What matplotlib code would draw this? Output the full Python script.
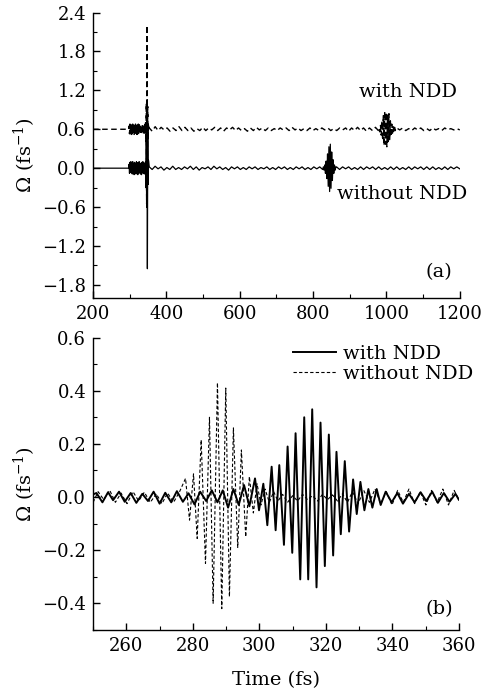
import numpy as np
import matplotlib
matplotlib.use("Agg")
import matplotlib.pyplot as plt
from matplotlib.ticker import MultipleLocator

plt.rcParams['font.family'] = ['DejaVu Serif']
plt.rcParams['mathtext.fontset'] = 'dejavuserif'
plt.rcParams['font.size'] = 14

# ---- panel (a): long time window, pieces of each trace as (start, end, values) ----
# without NDD (solid, around 0)
a_wo_pre = [0.0, 0.0]
a_wo_blob = [0.06, -0.08, 0.09, -0.06, 0.1, -0.07, 0.08, -0.09, 0.1, -0.06,
             0.07, -0.1, 0.09, -0.08, 0.07, -0.09, 0.1, -0.07, 0.08, -0.1,
             0.09, -0.08, 0.1, -0.07, 0.06, -0.09, 0.08, -0.1, 0.09, -0.07,
             0.1, -0.08, 0.07, -0.09, 0.08, -0.06]
a_wo_spike = [0.1, -0.3, 0.5, -0.6, 1.0, -1.55, 0.6, -0.25, 0.12]
a_wo_quiet1 = [0.02, -0.02, 0.03, -0.01, 0.02, -0.03, 0.01, -0.02, 0.03, -0.02,
               0.01, -0.02, 0.02, -0.01, 0.03, -0.02, 0.02, -0.03, 0.01, -0.01,
               0.02, -0.02, 0.03, -0.01, 0.02, -0.02, 0.01, -0.03, 0.02, -0.01,
               0.02, -0.02, 0.01, -0.02, 0.02, -0.01, 0.02, -0.02, 0.01, -0.01,
               0.02, -0.02, 0.01, -0.02, 0.02, -0.01, 0.02, -0.02, 0.01, -0.02,
               0.02, -0.01, 0.02, -0.02, 0.01, -0.02, 0.02, -0.01, 0.02, -0.02]
a_wo_packet = [0.02, -0.03, 0.05, -0.08, 0.11, -0.16, 0.22, -0.28, 0.33, -0.36,
               0.37, -0.31, 0.25, -0.19, 0.13, -0.08, 0.05, -0.03, 0.02]
a_wo_quiet2 = [0.02, -0.02, 0.02, -0.01, 0.02, -0.02, 0.01, -0.02, 0.02, -0.02,
               0.02, -0.01, 0.02, -0.02, 0.02, -0.02, 0.01, -0.02, 0.02, -0.02,
               0.02, -0.02, 0.01, -0.02, 0.02, -0.02, 0.02, -0.01, 0.02, -0.02,
               0.02, -0.02, 0.02, -0.02, 0.01, -0.02, 0.02, -0.02, 0.02, -0.01,
               0.02, -0.01]

# with NDD (dashed, shifted up by 0.6 in the figure)
a_w_pre = [0.0, 0.0]
a_w_blob = [0.05, -0.07, 0.08, -0.05, 0.07, -0.08, 0.06, -0.07, 0.08, -0.05,
            0.07, -0.08, 0.06, -0.07, 0.08, -0.06, 0.07, -0.08, 0.06, -0.07,
            0.08, -0.06, 0.07, -0.05, 0.08, -0.07, 0.06, -0.08, 0.07, -0.06,
            0.08, -0.07, 0.05, -0.06, 0.07, -0.05]
a_w_spike = [0.1, -0.2, 0.4, -1.15, 1.6, -0.6, 0.35, -0.15, 0.08]
a_w_quiet1 = [0.02, -0.03, 0.04, -0.02, 0.03, -0.01, 0.02, -0.03, 0.02, -0.02,
              0.04, -0.02, 0.03, -0.02, 0.02, -0.03, 0.01, -0.02, 0.03, -0.02,
              0.02, -0.01, 0.03, -0.02, 0.02, -0.03, 0.02, -0.01, 0.03, -0.02,
              0.02, -0.02, 0.01, -0.03, 0.02, -0.02, 0.03, -0.01, 0.02, -0.02,
              0.02, -0.02, 0.01, -0.02, 0.02, -0.01, 0.02, -0.02, 0.03, -0.01,
              0.02, -0.02, 0.01, -0.02, 0.02, -0.02, 0.01, -0.02, 0.02, -0.01,
              0.02, -0.02, 0.01, -0.02, 0.02, -0.01, 0.02, -0.03, 0.02, -0.02,
              0.03, -0.02, 0.02, -0.03, 0.02, -0.02, 0.03, -0.02]
a_w_packet = [0.02, -0.04, 0.06, -0.09, 0.13, -0.17, 0.21, -0.25, 0.27, -0.23,
              0.26, -0.27, 0.22, -0.19, 0.24, -0.16, 0.13, -0.11, 0.08, -0.06,
              0.05, -0.04, 0.03, -0.02, 0.02]
a_w_quiet2 = [0.02, -0.01, 0.02, -0.02, 0.01, -0.02, 0.02, -0.01, 0.02, -0.02,
              0.01, -0.02, 0.02, -0.01, 0.01, -0.02, 0.02, -0.01, 0.01, -0.01,
              0.01, -0.01]
offset_with = 0.6

a_wo_segments = [(200, 297, a_wo_pre), (298, 342, a_wo_blob), (343, 351, a_wo_spike),
                 (353, 826, a_wo_quiet1), (828, 862, a_wo_packet), (864, 1200, a_wo_quiet2)]
a_w_segments = [(200, 297, a_w_pre), (298, 342, a_w_blob), (343, 351, a_w_spike),
                (353, 978, a_w_quiet1), (980, 1026, a_w_packet), (1028, 1200, a_w_quiet2)]

# ---- panel (b): zoom 250-360 fs, extrema ----
b_with_t = [250, 251, 252.8, 254.5, 256, 257.8, 259.5, 261.3, 263, 264.8, 266.5, 268.2,
            270, 271.7, 273.5, 275.2, 277, 278.7, 280.5, 282.2, 284, 285.7, 287.4, 289,
            290.6, 292.2, 293.8, 295.4, 297, 298.7,
            299.9, 301.2, 302.4, 303.7, 304.9, 306, 307.4, 308.5, 309.9, 310.9, 312.3,
            313.5, 314.7, 315.9, 317.2, 318.4, 319.7, 320.9, 322.2, 323.2, 324.5, 325.7,
            327, 328.2, 329.3, 330.4, 331.6, 332.8, 334, 335.3, 336.5,
            338, 339.8, 341.5, 343.2, 345, 346.7, 348.5, 350.2, 352, 353.7, 355.5, 357.2,
            359, 360]
b_with_v = [0.01, 0.015, -0.02, 0.018, -0.012, 0.02, -0.018, 0.015, -0.022, 0.012, -0.015, 0.02,
            -0.025, 0.016, -0.02, 0.022, -0.018, 0.014, -0.028, 0.02, -0.015, 0.025, -0.02, 0.025,
            -0.04, 0.03, -0.03, 0.045, -0.035, 0.07,
            -0.05, 0.05, -0.106, 0.114, -0.125, 0.12, -0.18, 0.19, -0.21, 0.24, -0.31,
            0.30, -0.31, 0.33, -0.34, 0.28, -0.26, 0.235, -0.22, 0.17, -0.14, 0.135,
            -0.13, 0.066, -0.064, 0.057, -0.05, 0.03, -0.04, 0.03, -0.03,
            0.02, -0.02, 0.015, -0.025, 0.012, -0.02, 0.018, -0.015, 0.02, -0.022, 0.015, -0.018,
            0.012, -0.01]
b_without_t = [250, 251.5, 253.2, 255, 256.7, 258.4, 260.2, 262, 263.7, 265.4, 267.2, 269,
               270.7, 272.4, 274.2, 276,
               277.8, 279, 280.2, 281.3, 282.5, 283.8, 285, 286.1, 287.4, 288.7, 289.9, 291,
               292.2, 293.5, 294.6, 295.9, 297, 298.2, 299.3, 300.5, 301.7, 303, 304.3,
               305.6, 307, 308.5, 310, 311.5, 313, 314.5, 316, 317.5, 319, 320.5, 322, 323.5,
               325, 326.5, 328, 329.7, 331.4, 333.1, 334.8, 336.5, 338.2, 339.9, 341.6, 343.3,
               345, 346.7, 348.4, 350.1, 351.8, 353.5, 355.2, 356.9, 358.6, 360]
b_without_v = [-0.02, 0.02, -0.01, 0.025, -0.02, 0.015, -0.025, 0.02, -0.015, 0.018, -0.02, 0.012,
               -0.025, 0.015, -0.02, 0.02,
               0.07, -0.087, 0.087, -0.156, 0.215, -0.25, 0.30, -0.40, 0.43, -0.42, 0.41, -0.375,
               0.26, -0.19, 0.177, -0.15, 0.077, -0.06, 0.05, -0.03, 0.03, -0.02, 0.02,
               -0.015, 0.01, -0.02, 0.005, -0.015, 0.01, -0.01, 0.005, -0.015, 0.01, -0.01, 0.008, -0.015,
               0.012, -0.02, 0.02, -0.025, 0.025, -0.02, 0.03, -0.025, 0.02, -0.03, 0.025, -0.02,
               0.03, -0.025, 0.02, -0.03, 0.025, -0.02, 0.03, -0.03, 0.025, -0.01]


def build(segments):
    ts, vs = [], []
    for t0, t1, vals in segments:
        ts.append(np.linspace(t0, t1, len(vals)))
        vs.append(np.asarray(vals))
    return np.concatenate(ts), np.concatenate(vs)


def style(ax):
    for s in ['top', 'right']:
        ax.spines[s].set_visible(False)
    for s in ['left', 'bottom']:
        ax.spines[s].set_linewidth(1.0)
    ax.tick_params(which='both', direction='in', top=False, right=False, pad=5,
                   labelsize=13)
    ax.tick_params(which='major', length=5, width=1.0)
    ax.tick_params(which='minor', length=3, width=0.8)


fig = plt.figure(figsize=(4.85, 6.96), dpi=100)
ylab = r'$\mathit{Ω}$ (fs$^{-1}$)'

# panel (a)
ax1 = fig.add_axes([0.192, 0.572, 0.756, 0.41])
t_wo, v_wo = build(a_wo_segments)
t_w, v_w = build(a_w_segments)
ax1.plot(t_wo, v_wo, color='black', lw=0.9)
ax1.plot(t_w, v_w + offset_with, color='black', lw=1.0, dashes=(4, 2.5))
ax1.set_xlim(200, 1200)
ax1.set_ylim(-2.0, 2.4)
ax1.xaxis.set_major_locator(MultipleLocator(200))
ax1.xaxis.set_minor_locator(MultipleLocator(100))
ax1.yaxis.set_major_locator(MultipleLocator(0.6))
ax1.yaxis.set_minor_locator(MultipleLocator(0.3))
style(ax1)
ax1.set_ylabel(ylab)
ax1.yaxis.set_label_coords(-0.15, 0.5)
ax1.text(1060, 1.18, 'with NDD', ha='center', va='center')
ax1.text(1043, -0.4, 'without NDD', ha='center', va='center')
ax1.text(1143, -1.6, '(a)', ha='center', va='center')

# panel (b)
ax2 = fig.add_axes([0.192, 0.095, 0.754, 0.42])
ax2.plot(b_with_t, b_with_v, color='black', lw=1.4, label='with NDD')
ax2.plot(b_without_t, b_without_v, color='black', lw=0.8, dashes=(3, 2), label='without NDD')
ax2.set_xlim(250, 360)
ax2.set_ylim(-0.5, 0.6)
ax2.xaxis.set_major_locator(MultipleLocator(20))
ax2.xaxis.set_minor_locator(MultipleLocator(10))
ax2.yaxis.set_major_locator(MultipleLocator(0.2))
ax2.yaxis.set_minor_locator(MultipleLocator(0.1))
style(ax2)
ax2.set_ylabel(ylab)
ax2.yaxis.set_label_coords(-0.15, 0.5)
ax2.set_xlabel('Time (fs)')
ax2.xaxis.set_label_coords(0.5, -0.14)
ax2.text(354, -0.42, '(b)', ha='center', va='center')
ax2.legend(loc='upper left', bbox_to_anchor=(0.546, 0.975), frameon=False,
           handlelength=2.2, handletextpad=0.4, labelspacing=0.1,
           borderpad=0, borderaxespad=0)

fig.savefig('out.png', dpi=100)
